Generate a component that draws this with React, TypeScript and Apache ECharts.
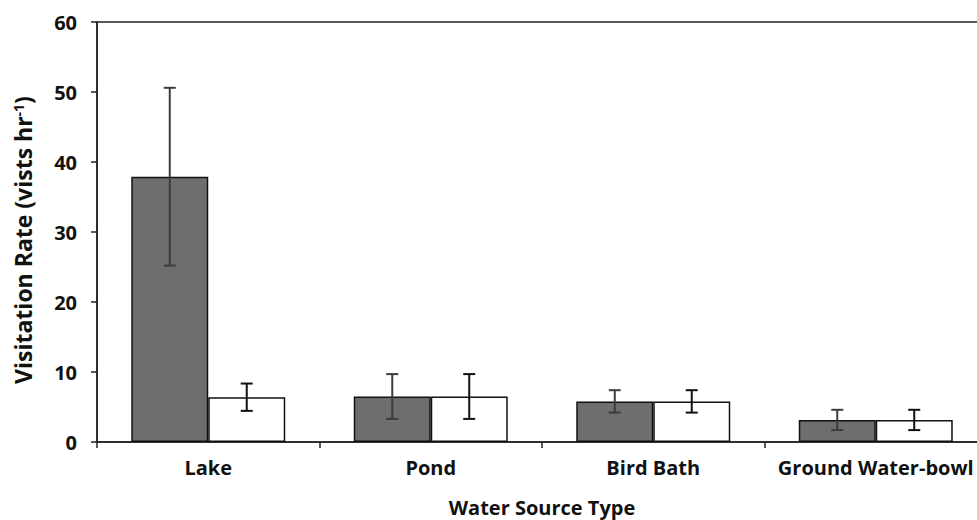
import React, { useEffect, useRef } from "react";
import * as echarts from "echarts";

const categories = ["Lake", "Pond", "Bird Bath", "Ground Water-bowl"];
const darkMeans = [37.9, 6.5, 5.8, 3.15];
const darkErr = [12.7, 3.2, 1.6, 1.45];
const whiteMeans = [6.4, 6.5, 5.8, 3.15];
const whiteErr = [1.95, 3.2, 1.6, 1.45];
const yTicks = { min: 0, max: 60, interval: 10 };

const BAR_FRAC = 0.346;
const FONT = "'Open Sans', 'Noto Sans', sans-serif";
const FS = 20;

function errorSeries(means: number[], errs: number[], sign: number, color: string) {
  return {
    type: "custom",
    z: 5,
    data: means.map((m, i) => [i, m - errs[i], m + errs[i]]),
    encode: { x: 0, y: [1, 2] },
    renderItem: (params: any, api: any) => {
      const idx = api.value(0);
      const lo = api.coord([idx, api.value(1)]);
      const hi = api.coord([idx, api.value(2)]);
      const band = api.size([1, 0])[0];
      const x = lo[0] + (sign * BAR_FRAC * band) / 2;
      const cap = 6;
      const style = { stroke: color, lineWidth: 2 };
      return {
        type: "group",
        children: [
          { type: "line", shape: { x1: x, y1: hi[1], x2: x, y2: lo[1] }, style },
          { type: "line", shape: { x1: x - cap, y1: hi[1], x2: x + cap, y2: hi[1] }, style },
          { type: "line", shape: { x1: x - cap, y1: lo[1], x2: x + cap, y2: lo[1] }, style },
        ],
      };
    },
  };
}

export default function App() {
  const ref = useRef<HTMLDivElement>(null);
  useEffect(() => {
    if (!ref.current) return;
    const chart = echarts.init(ref.current, null, { renderer: "svg" });
    const txt = { fontFamily: FONT, fontWeight: "bold", fontSize: FS, color: "#111" };
    const ytxt = { ...txt, fontSize: 23 };
    chart.setOption({
      animation: false,
      backgroundColor: "#ffffff",
      grid: {
        left: 97,
        right: -10,
        top: 22,
        bottom: 78,
        outerBoundsMode: "none",
        containLabel: false,
        show: true,
        borderColor: "#222",
        borderWidth: 1.5,
      },
      xAxis: {
        type: "category",
        data: categories,
        name: "Water Source Type",
        nameLocation: "middle",
        nameGap: 57,
        nameTextStyle: { ...txt, lineHeight: 16 },
        axisLine: { lineStyle: { color: "#222", width: 1.5 } },
        axisTick: { show: true, interval: 0, length: 6, lineStyle: { color: "#222", width: 1.5 } },
        axisLabel: { ...txt, interval: 0, margin: 15 },
      },
      yAxis: {
        type: "value",
        min: yTicks.min,
        max: yTicks.max,
        interval: yTicks.interval,
        name: "{a|Visitation Rate (vists hr}{s|-1}{a|)}",
        nameLocation: "middle",
        nameGap: 62,
        nameTextStyle: {
          ...ytxt,
          padding: [0, 16, 0, 0],
          rich: {
            a: { ...ytxt },
            s: { ...ytxt, fontSize: 14, padding: [0, 0, 10, 0] },
          },
        },
        splitLine: { show: false },
        axisLine: { show: true, lineStyle: { color: "#222", width: 1.5 } },
        axisTick: { show: true, length: 6, lineStyle: { color: "#222", width: 1.5 } },
        axisLabel: { ...txt, margin: 20 },
      },
      series: [
        {
          type: "bar",
          data: darkMeans,
          barWidth: (BAR_FRAC * 100).toFixed(1) + "%",
          barGap: "0%",
          itemStyle: { color: "#6e6e6e", borderColor: "#111", borderWidth: 1.5 },
        },
        {
          type: "bar",
          data: whiteMeans,
          barWidth: (BAR_FRAC * 100).toFixed(1) + "%",
          barGap: "0%",
          itemStyle: { color: "#ffffff", borderColor: "#111", borderWidth: 1.5 },
        },
        errorSeries(darkMeans, darkErr, -1, "#3c3c3c"),
        errorSeries(whiteMeans, whiteErr, 1, "#111"),
      ],
    });
    return () => chart.dispose();
  }, []);
  return <div ref={ref} style={{ position: "fixed", left: 0, top: 0, width: 977, height: 520 }} />;
}
